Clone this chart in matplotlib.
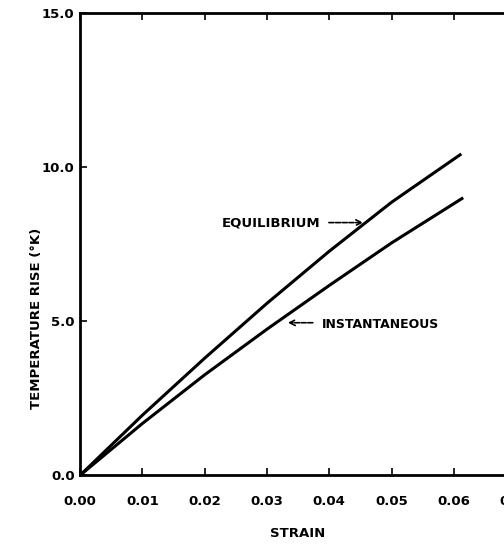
import matplotlib
matplotlib.use("Agg")
import matplotlib.pyplot as plt

# values
strain = [0.0, 0.01, 0.02, 0.03, 0.04, 0.05, 0.061]
equilibrium = [0.0, 1.95, 3.8, 5.58, 7.27, 8.86, 10.4]

strain_inst = [0.0, 0.01, 0.02, 0.03, 0.04, 0.05, 0.0613]
instantaneous = [0.0, 1.68, 3.26, 4.74, 6.16, 7.54, 8.98]

x_ticks = [0.00, 0.01, 0.02, 0.03, 0.04, 0.05, 0.06, 0.07]
x_labels = ['0.00', '0.01', '0.02', '0.03', '0.04', '0.05', '0.06', '0.07']
y_ticks = [0.0, 5.0, 10.0, 15.0]
y_labels = ['0.0', '5.0', '10.0', '15.0']

plt.rcParams['font.family'] = ['Liberation Sans Narrow', 'DejaVu Sans']
plt.rcParams['font.weight'] = 'bold'

fig = plt.figure(figsize=(5.04, 5.45), dpi=100)
ax = fig.add_axes([0.159, 0.128, 0.865, 0.848])

ax.plot(strain, equilibrium, color='black', lw=2.2, solid_joinstyle='round')
ax.plot(strain_inst, instantaneous, color='black', lw=2.2, solid_joinstyle='round')

ax.set_xlim(0, 0.07)
ax.set_ylim(0, 15)
ax.set_xticks(x_ticks)
ax.set_xticklabels(x_labels)
ax.set_yticks(y_ticks)
ax.set_yticklabels(y_labels)
ax.tick_params(direction='in', length=5, width=1.2, top=True, right=True,
               labelsize=9.5)
ax.tick_params(axis='x', pad=14)
ax.tick_params(axis='y', pad=4)
for s in ax.spines.values():
    s.set_linewidth(2)

ax.set_xlabel('STRAIN', fontsize=9.5, fontweight='bold', labelpad=14)
ax.set_ylabel('TEMPERATURE RISE (\u00b0K)', fontsize=9.5, fontweight='bold',
              va='center')
ax.yaxis.set_label_coords(-0.099, 0.34)

# labels with arrows
ax.annotate('', xy=(0.0459, 8.2), xytext=(0.0395, 8.2),
            arrowprops=dict(arrowstyle='->', color='black', lw=1.2, linestyle=(0, (3, 1))))
ax.text(0.0386, 8.2, 'EQUILIBRIUM', ha='right', va='center', fontsize=9.5,
        fontweight='bold')
ax.annotate('', xy=(0.0329, 4.95), xytext=(0.0378, 4.95),
            arrowprops=dict(arrowstyle='->', color='black', lw=1.2, linestyle=(0, (3, 1))))
ax.text(0.0388, 4.88, 'INSTANTANEOUS', ha='left', va='center', fontsize=9,
        fontweight='bold')

fig.savefig('out.png', dpi=100)
